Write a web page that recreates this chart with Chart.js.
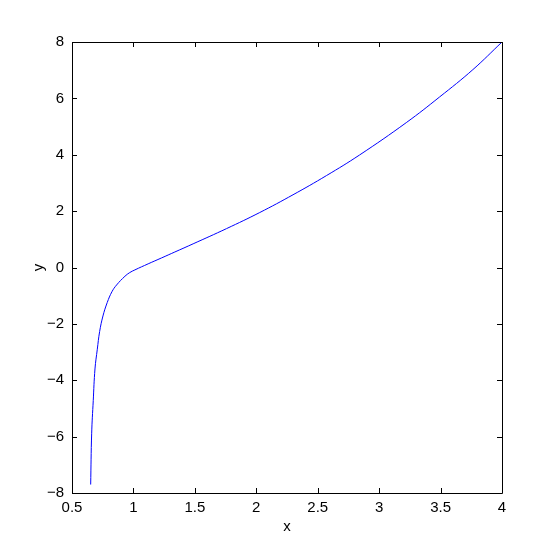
<!DOCTYPE html>
<html>
<head>
<meta charset="utf-8">
<script src="https://cdn.jsdelivr.net/npm/chart.js@4.4.0/dist/chart.umd.min.js"></script>
<style>
	html, body { margin: 0; padding: 0; background: #fff; }
	#wrap { width: 554px; height: 554px; }
</style>
</head>
<body>
<div id="wrap"><canvas id="curveChart" width="554" height="554"></canvas></div>
<script>
// values
var xValues = [0.652, 0.660, 0.673, 0.687, 0.706, 0.725, 0.752, 0.787, 0.825, 0.863, 0.931, 0.97, 1.012, 1.12, 1.229, 1.337, 1.486, 1.758, 2.028, 2.299, 2.571, 2.84, 3.221, 3.492, 3.763, 4.0];
var yValues = [-7.7, -5.9, -4.72, -3.6, -2.9, -2.27, -1.72, -1.24, -0.86, -0.62, -0.31, -0.18, -0.085, 0.13, 0.34, 0.55, 0.84, 1.38, 1.95, 2.58, 3.26, 3.99, 5.14, 6.05, 7.02, 8.0];
var xTicks = [0.5, 1, 1.5, 2, 2.5, 3, 3.5, 4];
var yTicks = [-8, -6, -4, -2, 0, 2, 4, 6, 8];

var fontFamily = '"Liberation Sans", Arial, sans-serif';

function makePoints() {
	var pts = [];
	for (var i = 0; i < xValues.length; i++) {
		pts.push({ x: xValues[i], y: yValues[i] });
	}
	return pts;
}

// box round the plot with matlab style inward ticks
var boxTicks = {
	id: 'boxTicks',
	afterDraw: function(chart) {
		var ctx = chart.ctx;
		var a = chart.chartArea;
		var xs = chart.scales.x;
		var ys = chart.scales.y;
		var len = 5;
		ctx.save();
		ctx.strokeStyle = '#000';
		ctx.lineWidth = 1;
		ctx.beginPath();
		ctx.rect(Math.round(a.left) + 0.5, Math.round(a.top) + 0.5, Math.round(a.right - a.left), Math.round(a.bottom - a.top));
		xTicks.forEach(function(v) {
			var px = Math.round(xs.getPixelForValue(v)) + 0.5;
			ctx.moveTo(px, a.bottom);
			ctx.lineTo(px, a.bottom - len);
			ctx.moveTo(px, a.top);
			ctx.lineTo(px, a.top + len);
		});
		yTicks.forEach(function(v) {
			var py = Math.round(ys.getPixelForValue(v)) + 0.5;
			ctx.moveTo(a.left, py);
			ctx.lineTo(a.left + len, py);
			ctx.moveTo(a.right, py);
			ctx.lineTo(a.right - len, py);
		});
		ctx.stroke();
		ctx.restore();
	}
};

function drawChart() {
	var ctx = document.getElementById('curveChart').getContext('2d');
	var chart = new Chart(ctx, {
		type: 'scatter',
		data: {
			datasets: [
				{
					data: makePoints(),
					showLine: true,
					borderColor: 'rgb(0, 0, 255)',
					borderWidth: 1,
					pointRadius: 0,
					tension: 0.4,
					fill: false
				}
			]
		},
		plugins: [boxTicks],
		options: {
			responsive: false,
			animation: false,
			layout: { padding: { top: 42, right: 52, left: 0, bottom: 0 } },
			plugins: { legend: { display: false }, tooltip: { enabled: false } },
			scales: {
				x: {
					type: 'linear',
					min: 0.5,
					max: 4,
					afterBuildTicks: function(scale) {
						scale.ticks = xTicks.map(function(v) { return { value: v }; });
					},
					afterFit: function(scale) { scale.height = 61; },
					grid: { display: false, drawTicks: false },
					border: { display: false },
					ticks: {
						color: '#000',
						padding: 6,
						maxRotation: 0,
						font: { family: fontFamily, size: 15 },
						callback: function(v) { return String(v); }
					},
					title: {
						display: true,
						text: 'x',
						color: '#000',
						padding: { top: 4, bottom: 18 },
						font: { family: fontFamily, size: 15 }
					}
				},
				y: {
					type: 'linear',
					min: -8,
					max: 8,
					afterBuildTicks: function(scale) {
						scale.ticks = yTicks.map(function(v) { return { value: v }; });
					},
					afterFit: function(scale) { scale.width = 72; },
					grid: { display: false, drawTicks: false },
					border: { display: false },
					ticks: {
						color: '#000',
						padding: 8,
						font: { family: fontFamily, size: 15 },
						callback: function(v) { return String(v).replace('-', '\u2212'); }
					},
					title: {
						display: true,
						text: 'y',
						color: '#000',
						padding: { top: 30, bottom: 14 },
						font: { family: fontFamily, size: 15 }
					}
				}
			}
		}
	});
}

drawChart();
</script>
</body>
</html>
